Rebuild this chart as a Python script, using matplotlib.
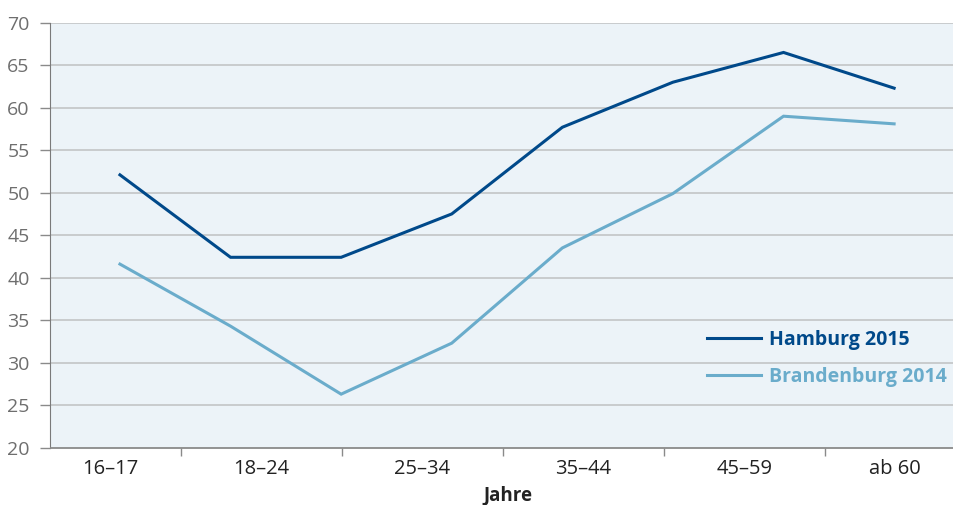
import numpy as np
import matplotlib
matplotlib.use("Agg")
import matplotlib.pyplot as plt
from matplotlib.lines import Line2D

plt.rcParams['font.family'] = ['Open Sans', 'DejaVu Sans']

# Anteil in Prozent nach Altersgruppe
hamburg_2015 = [52.1, 42.4, 42.4, 47.5, 57.7, 63.0, 66.5, 62.3]
brandenburg_2014 = [41.6, 34.3, 26.3, 32.3, 43.5, 49.9, 59.0, 58.1]
age_groups = ['16–17', '18–24', '25–34', '35–44', '45–59', 'ab 60']
yticks = [20, 25, 30, 35, 40, 45, 50, 55, 60, 65, 70]

c_hh = '#00498a'
c_bb = '#6aaccb'

W, H = 954, 505
fig = plt.figure(figsize=(W / 100, H / 100), dpi=100)
# axes run a bit past the right edge of the figure
left, right, top, bottom = 50.5, 966, 22.7, 447.7
ax = fig.add_axes([left / W, 1 - bottom / H, (right - left) / W, (bottom - top) / H])
ax.set_facecolor('#ecf3f8')

x = np.arange(len(hamburg_2015))
ax.plot(x, hamburg_2015, color=c_hh, lw=2.2, solid_joinstyle='miter')
ax.plot(x, brandenburg_2014, color=c_bb, lw=2.2, solid_joinstyle='miter')

ax.set_xlim(-0.628, 7.65)
ax.set_ylim(20, 70)

# y axis
ax.set_yticks(yticks)
ax.tick_params(axis='y', length=7, width=1, color='#8a8a8a', pad=8,
               labelsize=14, labelcolor='#6e6e6e')
for v in yticks[1:]:
    ax.axhline(v, color='#c6c8ca', lw=1.3, zorder=0)

# x axis: separators between age groups, labels centred in each group
bounds = 0.552 + 1.456 * np.arange(len(age_groups) - 1)
centers = np.concatenate([[-0.09], (bounds[:-1] + bounds[1:]) / 2, [7.01]])
ax.set_xticks(centers)
ax.set_xticklabels(age_groups)
ax.set_xticks(bounds, minor=True)
ax.tick_params(axis='x', which='major', length=0, pad=8, labelsize=14.5,
               labelcolor='#222222')
ax.tick_params(axis='x', which='minor', length=6, width=1, color='#8a8a8a')
ax.set_xlabel('Jahre', fontsize=13.5, fontweight='bold', color='#222222', labelpad=5)

for s in ['top', 'right']:
    ax.spines[s].set_visible(False)
ax.spines['left'].set_color('#7a7a7a')
ax.spines['bottom'].set_color('#8a8a8a')
ax.spines['bottom'].set_linewidth(1.3)

handles = [Line2D([], [], color=c_hh, lw=2.2), Line2D([], [], color=c_bb, lw=2.2)]
leg = ax.legend(handles, ['Hamburg 2015', 'Brandenburg 2014'], frameon=False,
                loc='upper left', bbox_to_anchor=(707 / W, 1 - 330 / H),
                bbox_transform=fig.transFigure, borderpad=0, borderaxespad=0,
                handlelength=2.8, handletextpad=0.38, labelspacing=0.85,
                prop={'size': 14, 'weight': 'bold'})
for t, c in zip(leg.get_texts(), [c_hh, c_bb]):
    t.set_color(c)

fig.savefig('out.png', dpi=100)
